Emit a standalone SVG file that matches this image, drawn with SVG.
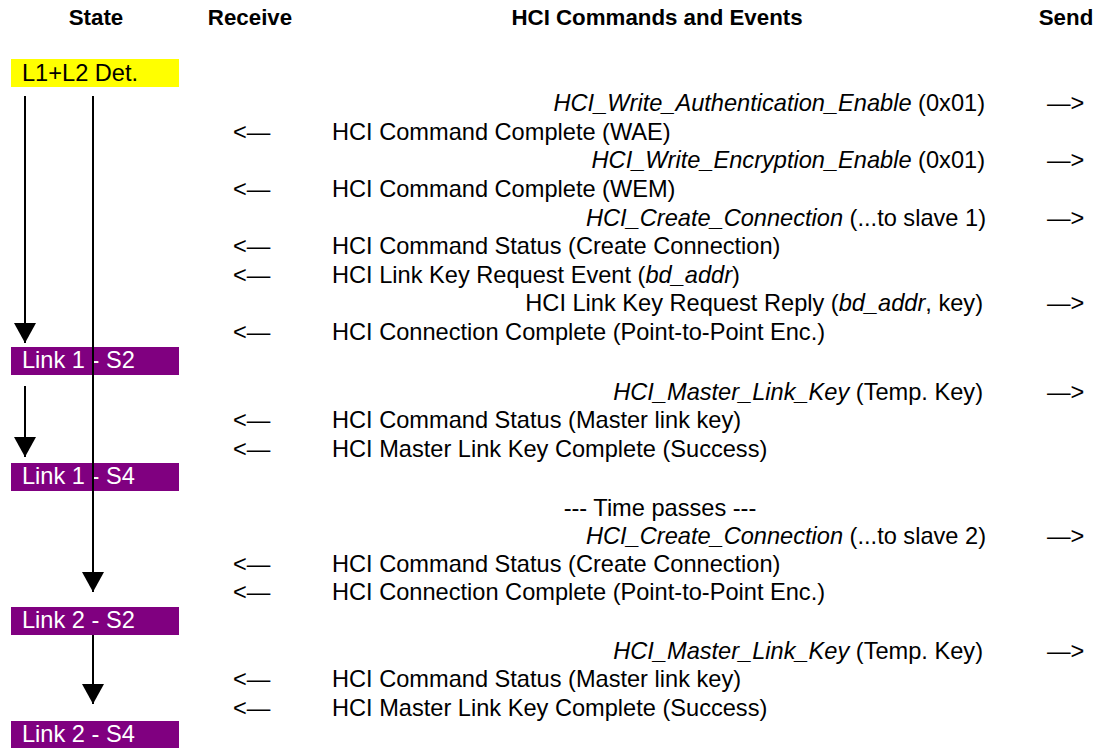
<svg xmlns="http://www.w3.org/2000/svg" width="1099" height="748" viewBox="0 0 1099 748">
<style>
text{font-family:"Liberation Sans",Arial,sans-serif;font-size:23.6px;fill:#000}
.h{font-weight:bold;text-anchor:middle;font-size:22.3px}
.r{text-anchor:end}
.i{font-style:italic}
.w{fill:#fff}
.st{fill:#800080}
.conn line{stroke:#000;stroke-width:2}
</style>
<defs>
<marker id="ah" markerUnits="userSpaceOnUse" markerWidth="23" markerHeight="23" refX="20" refY="11" orient="auto">
<path d="M0,0 L20,11 L0,22 z" fill="#000"/>
</marker>
</defs>
<rect width="1099" height="748" fill="#fff"/>
<g id="header">
<text class="h" x="96" y="25">State</text>
<text class="h" x="250" y="25">Receive</text>
<text class="h" x="657" y="25">HCI Commands and Events</text>
<text class="h" x="1066" y="25">Send</text>
</g>
<g id="state-l1l2">
<rect x="11" y="59" width="168" height="28" fill="#ffff00"/>
<text x="22" y="81">L1+L2 Det.</text>
</g>
<g id="state-link1-s2">
<rect class="st" x="11" y="347" width="168" height="28"/>
<text class="w" x="22" y="368">Link 1 - S2</text>
</g>
<g id="state-link1-s4">
<rect class="st" x="11" y="463" width="168" height="28"/>
<text class="w" x="22" y="484">Link 1 - S4</text>
</g>
<g id="state-link2-s2">
<rect class="st" x="11" y="607" width="168" height="28"/>
<text class="w" x="22" y="628">Link 2 - S2</text>
</g>
<g id="state-link2-s4">
<rect class="st" x="11" y="721" width="168" height="28"/>
<text class="w" x="22" y="742">Link 2 - S4</text>
</g>
<g id="connectors" class="conn">
<line x1="25" y1="96" x2="25" y2="343" marker-end="url(#ah)"/>
<line x1="93" y1="96" x2="93" y2="592" marker-end="url(#ah)"/>
<line x1="25" y1="386" x2="25" y2="457" marker-end="url(#ah)"/>
<line x1="93" y1="635" x2="93" y2="704" marker-end="url(#ah)"/>
</g>
<g id="messages">
<text class="r" x="985" y="111"><tspan class="i">HCI_Write_Authentication_Enable</tspan> (0x01)</text>
<text x="1047" y="111">—&gt;</text>
<text x="233" y="140">&lt;—</text>
<text x="332" y="140">HCI Command Complete (WAE)</text>
<text class="r" x="985" y="168"><tspan class="i">HCI_Write_Encryption_Enable</tspan> (0x01)</text>
<text x="1047" y="168">—&gt;</text>
<text x="233" y="197">&lt;—</text>
<text x="332" y="197">HCI Command Complete (WEM)</text>
<text class="r" x="986" y="226"><tspan class="i">HCI_Create_Connection</tspan> (...to slave 1)</text>
<text x="1047" y="226">—&gt;</text>
<text x="233" y="254">&lt;—</text>
<text x="332" y="254">HCI Command Status (Create Connection)</text>
<text x="233" y="283">&lt;—</text>
<text x="332" y="283">HCI Link Key Request Event (<tspan class="i">bd_addr</tspan>)</text>
<text class="r" x="983" y="311">HCI Link Key Request Reply (<tspan class="i">bd_addr</tspan>, key)</text>
<text x="1047" y="311">—&gt;</text>
<text x="233" y="340">&lt;—</text>
<text x="332" y="340">HCI Connection Complete (Point-to-Point Enc.)</text>
<text class="r" x="983" y="400"><tspan class="i">HCI_Master_Link_Key</tspan> (Temp. Key)</text>
<text x="1047" y="400">—&gt;</text>
<text x="233" y="428">&lt;—</text>
<text x="332" y="428">HCI Command Status (Master link key)</text>
<text x="233" y="457">&lt;—</text>
<text x="332" y="457">HCI Master Link Key Complete (Success)</text>
<text x="660" y="516" text-anchor="middle">--- Time passes ---</text>
<text class="r" x="986" y="544"><tspan class="i">HCI_Create_Connection</tspan> (...to slave 2)</text>
<text x="1047" y="544">—&gt;</text>
<text x="233" y="572">&lt;—</text>
<text x="332" y="572">HCI Command Status (Create Connection)</text>
<text x="233" y="600">&lt;—</text>
<text x="332" y="600">HCI Connection Complete (Point-to-Point Enc.)</text>
<text class="r" x="983" y="659"><tspan class="i">HCI_Master_Link_Key</tspan> (Temp. Key)</text>
<text x="1047" y="659">—&gt;</text>
<text x="233" y="687">&lt;—</text>
<text x="332" y="687">HCI Command Status (Master link key)</text>
<text x="233" y="716">&lt;—</text>
<text x="332" y="716">HCI Master Link Key Complete (Success)</text>
</g>
</svg>
